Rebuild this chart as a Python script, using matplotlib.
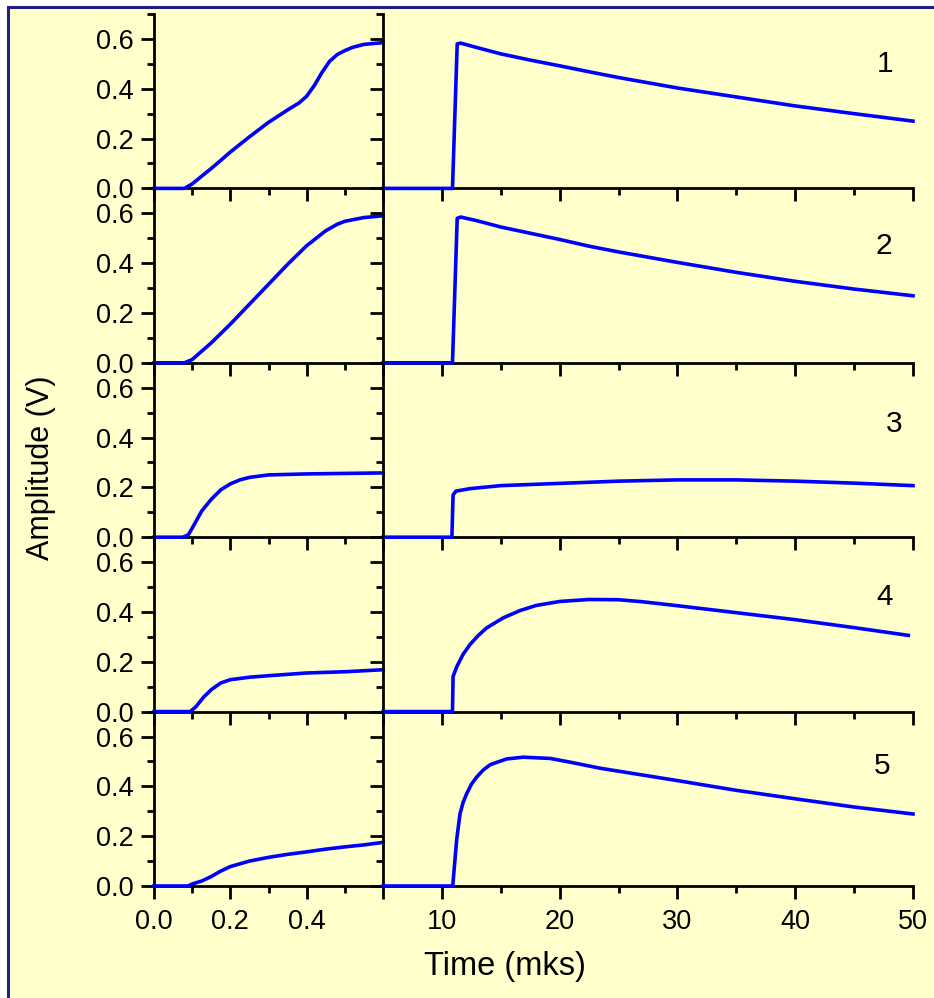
import numpy as np
import matplotlib.pyplot as plt
from matplotlib.patches import Rectangle
from matplotlib.ticker import MultipleLocator, FixedLocator

plt.rcParams['font.family'] = ['Liberation Sans', 'DejaVu Sans']

# --- early part of each pulse, 0 .. 0.6 mks ---
x1 = [0, 0.08, 0.1, 0.12, 0.15, 0.17, 0.2, 0.25, 0.3, 0.35, 0.38, 0.4, 0.42, 0.44, 0.46, 0.48, 0.5, 0.52, 0.55, 0.6]
v1 = [0, 0, 0.018, 0.043, 0.08, 0.106, 0.146, 0.207, 0.265, 0.315, 0.343, 0.37, 0.413, 0.465, 0.51, 0.537, 0.553, 0.566, 0.578, 0.585]

x2 = [0, 0.08, 0.1, 0.15, 0.2, 0.25, 0.3, 0.35, 0.4, 0.45, 0.48, 0.5, 0.55, 0.6]
v2 = [0, 0, 0.013, 0.08, 0.155, 0.235, 0.315, 0.395, 0.47, 0.53, 0.556, 0.568, 0.583, 0.59]

x3 = [0, 0.076, 0.09, 0.1, 0.125, 0.15, 0.175, 0.2, 0.225, 0.25, 0.3, 0.4, 0.5, 0.6]
v3 = [0, 0, 0.01, 0.036, 0.105, 0.152, 0.19, 0.214, 0.23, 0.24, 0.25, 0.254, 0.256, 0.258]

x4 = [0, 0.095, 0.11, 0.13, 0.15, 0.175, 0.2, 0.25, 0.3, 0.4, 0.5, 0.6]
v4 = [0, 0, 0.02, 0.058, 0.088, 0.115, 0.128, 0.138, 0.144, 0.155, 0.16, 0.168]

x5 = [0, 0.089, 0.1, 0.125, 0.15, 0.175, 0.2, 0.25, 0.3, 0.35, 0.4, 0.45, 0.5, 0.55, 0.6]
v5 = [0, 0, 0.008, 0.02, 0.038, 0.06, 0.078, 0.10, 0.115, 0.127, 0.137, 0.148, 0.157, 0.165, 0.175]

# --- full pulse, 5 .. 50 mks ---
t1 = [5, 10.9, 11.3, 11.6, 13, 15, 17.5, 20, 22.5, 25, 30, 35, 40, 45, 50]
u1 = [0, 0, 0.58, 0.583, 0.565, 0.54, 0.515, 0.492, 0.468, 0.445, 0.403, 0.367, 0.331, 0.30, 0.27]

t2 = [5, 10.9, 11.3, 11.6, 13, 15, 17.5, 20, 22.5, 25, 30, 35, 40, 45, 50]
u2 = [0, 0, 0.58, 0.585, 0.57, 0.545, 0.52, 0.495, 0.468, 0.445, 0.403, 0.363, 0.327, 0.296, 0.269]

t3 = [5, 10.85, 10.95, 11.2, 12.4, 15, 20, 25, 30, 35, 40, 45, 50]
u3 = [0, 0, 0.17, 0.185, 0.195, 0.207, 0.216, 0.225, 0.23, 0.23, 0.225, 0.217, 0.207]

t4 = [5, 10.9, 10.95, 11.26, 11.8, 12.4, 13.1, 13.8, 15.2, 16.6, 18, 20, 22.5, 25, 27, 30, 35, 40, 45, 49.6]
u4 = [0, 0, 0.141, 0.18, 0.23, 0.27, 0.306, 0.336, 0.376, 0.405, 0.426, 0.442, 0.45, 0.449, 0.441, 0.425, 0.397, 0.369, 0.337, 0.306]

t5 = [5, 10.92, 11.1, 11.26, 11.54, 11.8, 12.1, 12.5, 12.95, 13.5, 14.1, 15.5, 16.9, 19.2, 21, 23.4, 30, 35, 40, 45, 50]
u5 = [0, 0, 0.1, 0.188, 0.29, 0.335, 0.37, 0.408, 0.437, 0.465, 0.487, 0.51, 0.517, 0.512, 0.496, 0.473, 0.423, 0.384, 0.35, 0.317, 0.289]

early = [(x1, v1), (x2, v2), (x3, v3), (x4, v4), (x5, v5)]
full = [(t1, u1), (t2, u2), (t3, u3), (t4, u4), (t5, u5)]
labels = ['1', '2', '3', '4', '5']
label_pos = [(47.6, 0.50), (47.5, 0.47), (48.4, 0.456), (47.6, 0.46), (47.4, 0.48)]

bg = '#FFFFCC'
blue = '#0000FF'
lw_ax = 2.0

W, H = 934, 998
fig = plt.figure(figsize=(W / 100, H / 100), dpi=100, facecolor='white')
fig.patches.append(Rectangle((8 / W, -0.05), 1.1, 1 - 7 / H + 0.05, transform=fig.transFigure,
                             facecolor=bg, edgecolor='#202080', linewidth=2.2, zorder=-10))

xl0, xl1, xr1 = 154 / W, 383 / W, 913 / W
row_h = 174.4 / H
bottom0 = 1 - 886 / H

for i in range(5):
    b = bottom0 + (4 - i) * row_h
    axl = fig.add_axes([xl0, b, xl1 - xl0, row_h])
    axr = fig.add_axes([xl1, b, xr1 - xl1, row_h])
    for ax in (axl, axr):
        ax.set_facecolor('none')
        ax.set_ylim(0, 0.7)
        ax.spines['top'].set_visible(False)
        for s in ax.spines.values():
            s.set_linewidth(lw_ax)
        ax.tick_params(which='major', length=9.4, width=lw_ax, labelsize=19.5, direction='out')
        ax.tick_params(which='minor', length=5, width=lw_ax, direction='out')
        ax.yaxis.set_major_locator(FixedLocator([0, 0.2, 0.4, 0.6]))
        ax.yaxis.set_minor_locator(FixedLocator([0.1, 0.3, 0.5, 0.7]))

    # early part
    axl.set_xlim(0, 0.6)
    axl.spines['right'].set_visible(False)
    axl.xaxis.set_major_locator(FixedLocator([0, 0.2, 0.4, 0.6]))
    axl.xaxis.set_minor_locator(FixedLocator([0.1, 0.3, 0.5]))
    axl.tick_params(axis='y', pad=5)
    axl.tick_params(axis='x', pad=7)
    axl.set_yticklabels(['0.0', '0.2', '0.4', '0.6'])
    if i == 4:
        axl.set_xticklabels(['0.0', '0.2', '0.4', ''])
    else:
        axl.set_xticklabels([])
    x, v = early[i]
    axl.plot(x, v, color=blue, lw=2.6, clip_on=False, zorder=5)

    # full pulse, ticks on the shared border point left
    axr.set_xlim(5, 50)
    axr.spines['right'].set_visible(False)
    axr.xaxis.set_major_locator(MultipleLocator(10))
    axr.xaxis.set_minor_locator(FixedLocator([15, 25, 35, 45]))
    axr.tick_params(axis='y', labelleft=False)
    axr.tick_params(axis='x', pad=7)
    if i != 4:
        axr.set_xticklabels([])
    t, u = full[i]
    axr.plot(t, u, color=blue, lw=2.6, clip_on=False, zorder=5)
    axr.text(label_pos[i][0], label_pos[i][1], labels[i], fontsize=21.5,
             ha='center', va='center')

fig.text(41 / W, 1 - 468 / H, 'Amplitude (V)', rotation=90, fontsize=22,
         ha='center', va='center')
fig.text(505 / W, 1 - 966 / H, 'Time (mks)', fontsize=23.5, ha='center', va='center')

fig.savefig('out.png', dpi=100, facecolor=fig.get_facecolor())
